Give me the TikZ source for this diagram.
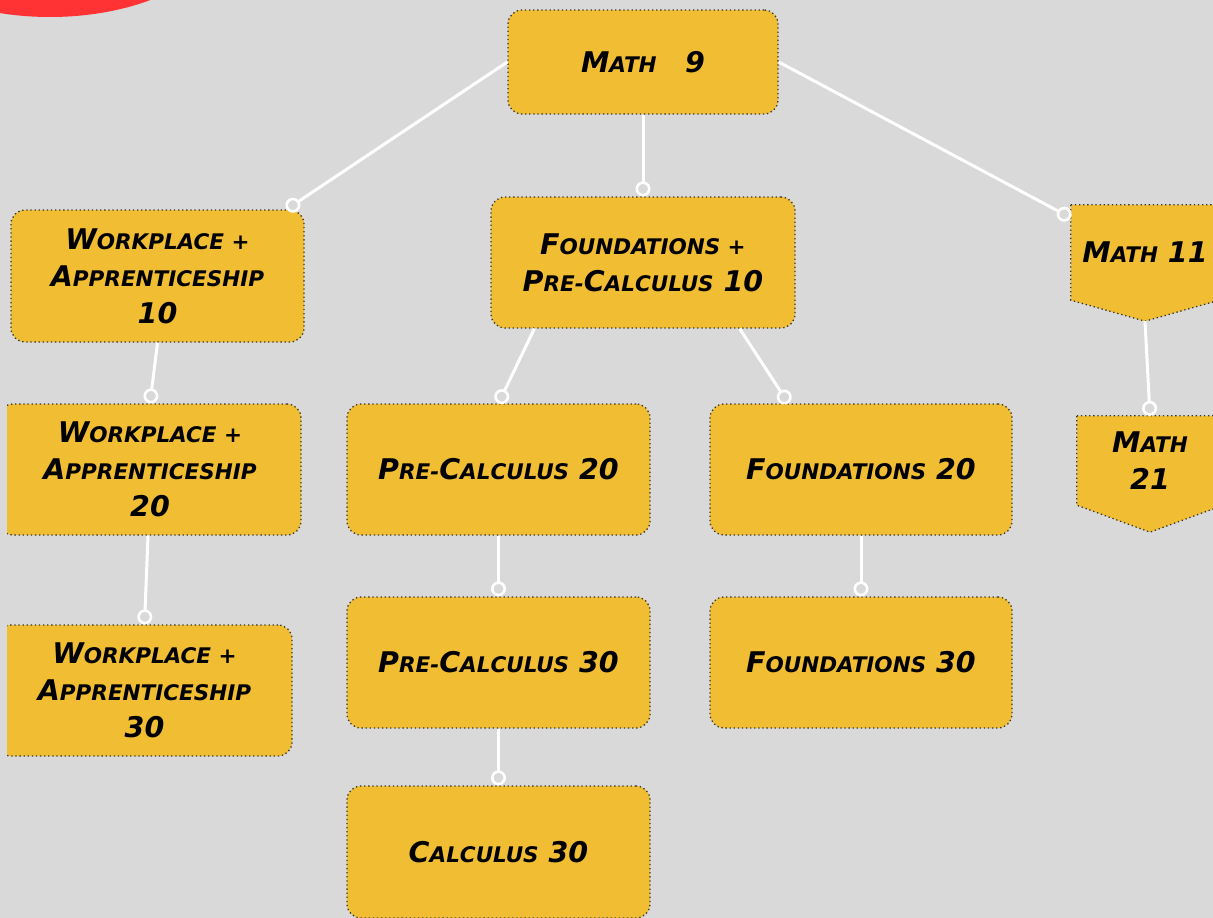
\documentclass[tikz,border=0pt]{standalone}
\usepackage{fontspec}
\setmainfont{DejaVu Sans}
\usetikzlibrary{arrows.meta,backgrounds}
\definecolor{bgc}{HTML}{D9D9D9}
\definecolor{boxc}{HTML}{F0BD33}
\definecolor{redc}{HTML}{FF3333}
\definecolor{bord}{HTML}{333333}
\newcommand\bc[1]{{\fontsize{28.5}{37}\selectfont #1}}
\newcommand\sm[1]{{\fontsize{21.5}{37}\selectfont\uppercase{#1}}}
\tikzset{
  lbl/.style={align=center, inner sep=0pt, text=black,
    font=\fontsize{28.5}{37}\selectfont\bfseries\itshape},
  box/.style={lbl, rectangle, rounded corners=14pt, draw=bord,
    dash pattern=on 1.3pt off 2.8pt, line width=1.3pt, fill=boxc},
  tag/.style={draw=bord, dash pattern=on 1.3pt off 2.8pt, line width=1.3pt, fill=boxc},
  conn/.style={draw=white, line width=3pt,
    -{Circle[length=15pt,width=15pt,fill=bgc,line width=2.6pt]}},
}
\begin{document}
\begin{tikzpicture}[x=1pt,y=-1pt]
\useasboundingbox (0,0) rectangle (1213,918);
\clip (0,0) rectangle (1213,918);
\begin{pgfonlayer}{background}
\fill[bgc] (0,0) rectangle (1213,918);
\fill[redc] (50,-83) ellipse [x radius=180pt, y radius=100pt];
\end{pgfonlayer}

\node[box, minimum width=270pt, minimum height=104pt] (m9) at (643,62) {\bc{M}\sm{ath}\quad\bc{9}};
\node[box, minimum width=293pt, minimum height=132pt] (w10) at (157.5,276) {\bc{W}\sm{orkplace +}\\\bc{A}\sm{pprenticeship}\\\bc{10}};
\node[box, minimum width=304pt, minimum height=131pt] (fpc10) at (643,262.5) {\bc{F}\sm{oundations +}\\\bc{P}\sm{re-}\bc{C}\sm{alculus} \bc{10}};
\begin{scope}
\clip (7,0) rectangle (1213,918);
\node[box, minimum width=302pt, minimum height=131pt] (w20) at (150,469.5) {\bc{W}\sm{orkplace +}\\\bc{A}\sm{pprenticeship}\\\bc{20}};
\node[box, minimum width=295pt, minimum height=131pt] (w30) at (144.5,690.5) {\bc{W}\sm{orkplace +}\\\bc{A}\sm{pprenticeship}\\\bc{30}};
\end{scope}
\node[box, minimum width=303pt, minimum height=131pt] (pc20) at (498.5,469.5) {\bc{P}\sm{re-}\bc{C}\sm{alculus} \bc{20}};
\node[box, minimum width=302pt, minimum height=131pt] (f20) at (861,469.5) {\bc{F}\sm{oundations} \bc{20}};
\node[box, minimum width=303pt, minimum height=131pt] (pc30) at (498.5,662.5) {\bc{P}\sm{re-}\bc{C}\sm{alculus} \bc{30}};
\node[box, minimum width=302pt, minimum height=131pt] (f30) at (861,662.5) {\bc{F}\sm{oundations} \bc{30}};
\node[box, minimum width=303pt, minimum height=132pt] (calc30) at (498.5,852) {\bc{C}\sm{alculus} \bc{30}};

\node[lbl, minimum width=148pt, minimum height=95pt] (m11) at (1145,252.5) {\bc{M}\sm{ath} \bc{11}};
\node[lbl, minimum width=146pt, minimum height=89pt] (m21) at (1150,460.5) {\bc{M}\sm{ath}\\\bc{21}};
\coordinate (m11tip) at ([yshift=-21pt]m11.south);
\coordinate (m21tip) at ([yshift=-27pt]m21.south);
\begin{pgfonlayer}{background}
\path[tag] (m11.north west) -- (m11.north east) -- (m11.south east) -- (m11tip) -- (m11.south west) -- cycle;
\path[tag] (m21.north west) -- (m21.north east) -- (m21.south east) -- (m21tip) -- (m21.south west) -- cycle;
\end{pgfonlayer}

\draw[conn] (m9.west) -- ([xshift=-18pt]w10.north east);
\draw[conn] (m9.south) -- (fpc10.north);
\draw[conn] (m9.east) -- ([yshift=-13pt]m11.north west);
\draw[conn] ([xshift=44pt]fpc10.south west) -- (pc20.north);
\draw[conn] ([xshift=-56pt]fpc10.south east) -- ([xshift=79pt]f20.north west);
\draw[conn] (w10.south) -- (w20.north);
\draw[conn] ([xshift=-2pt]w20.south) -- (w30.north);
\draw[conn] (pc20.south) -- (pc30.north);
\draw[conn] (f20.south) -- (f30.north);
\draw[conn] (pc30.south) -- (calc30.north);
\draw[conn] (m11tip) -- (m21.north);
\end{tikzpicture}
\end{document}
